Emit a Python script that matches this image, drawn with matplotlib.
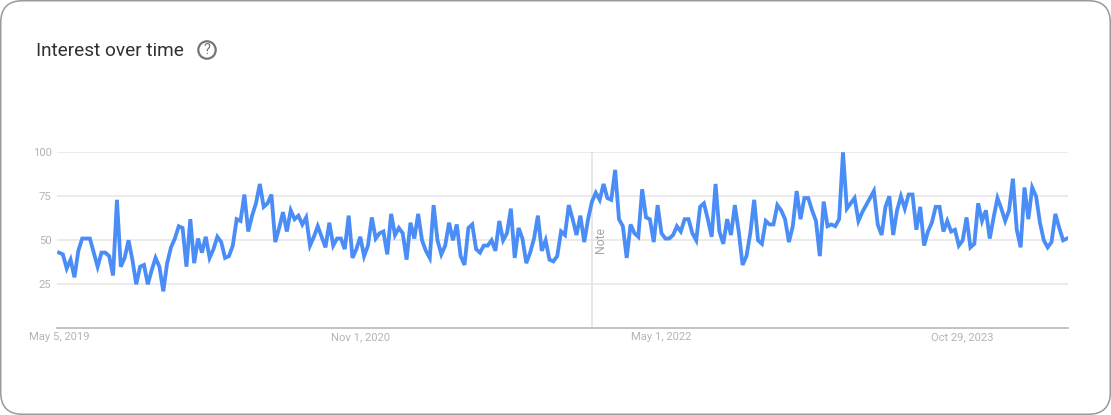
import pandas as pd
import matplotlib.pyplot as plt
from matplotlib.patches import Circle, FancyBboxPatch

plt.rcParams['font.family'] = ['Roboto', 'DejaVu Sans']

# weekly values
interest = [
    43, 42, 34, 39, 29, 44, 51, 51, 51, 43, 35, 43, 43, 41, 30, 73, 35, 40, 50, 39,
    25, 35, 36, 25, 33, 40, 35, 21, 37, 46, 51, 58, 57, 35, 62, 37, 51, 43, 52, 40,
    45, 52, 49, 40, 41, 47, 62, 61, 76, 55, 64, 71, 82, 69, 71, 76, 49, 57, 66, 55,
    67, 62, 64, 59, 63, 47, 52, 58, 52, 46, 60, 47, 51, 51, 45, 64, 40, 45, 52, 41,
    47, 63, 51, 54, 55, 42, 65, 53, 57, 54, 39, 60, 51, 65, 50, 44, 40, 70, 50, 42,
    47, 60, 50, 59, 41, 36, 57, 59, 45, 43, 47, 47, 50, 44, 61, 50, 54, 68, 40, 57,
    51, 37, 43, 51, 64, 44, 50, 39, 38, 41, 55, 53, 70, 62, 53, 64, 49, 62, 72, 77,
    73, 82, 74, 73, 90, 62, 58, 40, 59, 54, 52, 79, 63, 62, 49, 70, 54, 51, 51, 53,
    58, 55, 62, 62, 54, 50, 69, 71, 62, 52, 82, 55, 48, 62, 53, 70, 55, 36, 41, 54,
    73, 50, 48, 61, 59, 59, 70, 67, 62, 49, 58, 78, 62, 74, 74, 67, 61, 41, 72, 58,
    59, 58, 62, 100, 68, 71, 74, 61, 66, 70, 74, 78, 59, 53, 69, 75, 53, 67, 75, 68,
    76, 76, 56, 69, 47, 55, 60, 69, 69, 55, 61, 55, 56, 47, 50, 63, 46, 48, 71, 61,
    67, 51, 63, 74, 68, 61, 67, 85, 56, 46, 80, 62, 80, 75, 60, 50, 46, 49, 65, 57,
    50, 51,
]
weeks = pd.date_range('2019-05-05', periods=len(interest), freq='7D')
y_ticks = [25, 50, 75, 100]
x_tick_dates = pd.to_datetime(['2019-05-05', '2020-11-01', '2022-05-01', '2023-10-29'])
x_tick_labels = ['May 5, 2019', 'Nov 1, 2020', 'May 1, 2022', 'Oct 29, 2023']
note_date = pd.Timestamp('2021-12-26')

W, H = 1111, 415
fig = plt.figure(figsize=(W / 100, H / 100), dpi=100)

# card, title and help icon, in pixel coordinates
card = fig.add_axes([0, 0, 1, 1])
card.set_xlim(0, W)
card.set_ylim(H, 0)
card.axis('off')
card.add_patch(FancyBboxPatch((0.7, 0.7), W - 1.4, H - 1.4, boxstyle='round,pad=0,rounding_size=22',
                              fc='white', ec='#9a9a9a', lw=1.1))
card.text(36, 51.5, 'Interest over time', fontsize=13.65, color='#303134', va='center', ha='left')
card.add_patch(Circle((207, 50), 8.7, fc='none', ec='#757575', lw=1.6))
card.text(207, 50.5, '?', fontsize=10.5, color='#757575', va='center', ha='center')

# plot area
left, right, top, bottom = 57, 1068, 152.3, 328.3
ax = fig.add_axes([left / W, 1 - bottom / H, (right - left) / W, (bottom - top) / H])
ax.patch.set_alpha(0)
px_per_week = 3.862
ax.set_xlim(weeks[0] - pd.Timedelta(days=7 * 2 / px_per_week),
            weeks[0] + pd.Timedelta(days=7 * (right - 59) / px_per_week))
ax.set_ylim(0, 100)

ax.set_yticks(y_ticks)
ax.set_xticks(x_tick_dates)
ax.set_xticklabels(x_tick_labels)
ax.tick_params(axis='both', length=0, labelsize=8.1, labelcolor='#b4b4b4')
ax.tick_params(axis='x', pad=3)
ax.tick_params(axis='y', pad=4)
ax.grid(axis='y', color='#e6e6e6', lw=1.1)
ax.set_axisbelow(True)
for s in ['top', 'left', 'right']:
    ax.spines[s].set_visible(False)
ax.spines['bottom'].set_color('#bdbdbd')
ax.spines['bottom'].set_linewidth(1.3)

ax.axvline(note_date, color='#e0e0e0', lw=1.1, zorder=1.5)
ax.text(note_date + pd.Timedelta(days=16), 50, 'Note', rotation=90, fontsize=8.8,
        color='#a6a6a6', va='center', ha='center')

ax.plot(weeks, interest, color='#4a8df6', lw=2.75, solid_joinstyle='miter', zorder=3)

fig.savefig('out.png', dpi=100)
